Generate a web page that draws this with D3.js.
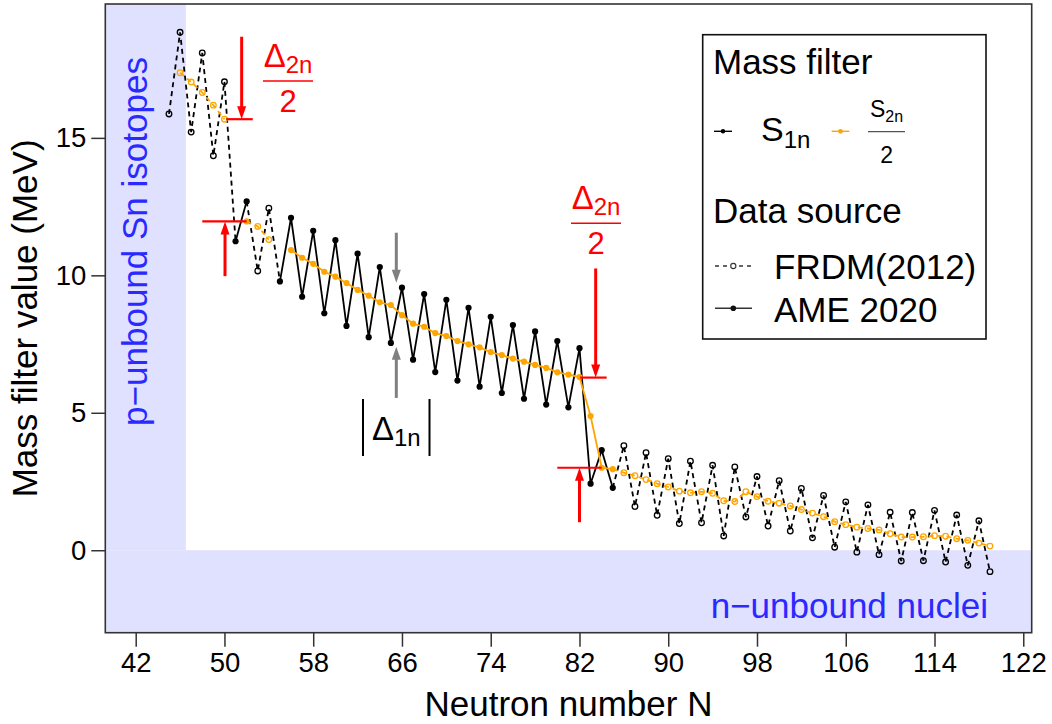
<!DOCTYPE html>
<html>
<head>
<meta charset="utf-8">
<script src="https://cdn.jsdelivr.net/npm/d3@7"></script>
<style>
  body { margin: 0; background: #fff; }
  text { font-family: "Liberation Sans", Arial, Helvetica, sans-serif; }
</style>
</head>
<body>
<div id="chart"></div>
<script>
// neutron numbers of the Sn chain
var neutronN = [45,46,47,48,49,50,51,52,53,54,55,56,57,58,59,60,61,62,63,64,
  65,66,67,68,69,70,71,72,73,74,75,76,77,78,79,80,81,82,83,84,85,86,87,88,89,
  90,91,92,93,94,95,96,97,98,99,100,101,102,103,104,105,106,107,108,109,110,
  111,112,113,114,115,116,117,118,119];

// S1n (MeV)
var s1n = [15.87,18.84,15.21,18.09,14.35,17.04,11.24,12.69,10.16,12.44,
  9.78,12.09,9.22,11.62,8.62,11.28,8.16,10.79,7.75,10.30,
  7.54,9.55,6.93,9.32,6.48,9.11,6.17,8.82,5.95,8.49,
  5.72,8.19,5.51,7.96,5.30,7.61,5.20,7.35,2.42,3.64,
  2.27,3.80,1.59,3.55,1.27,3.33,0.97,3.24,1.00,3.09,
  0.52,3.03,1.21,2.68,0.88,2.53,0.70,2.25,0.45,1.99,
  0.11,1.76,-0.07,1.65,-0.16,1.38,-0.39,1.37,-0.38,1.45,
  -0.43,1.28,-0.55,1.07,-0.78];

// S2n/2 (MeV), null where not drawn
var s2nHalf = [null,17.37,17.03,16.65,16.19,15.68,null,11.96,11.78,11.30,
  null,10.92,10.64,10.42,10.13,9.95,9.72,9.47,9.26,9.02,
  8.92,8.55,8.24,8.13,7.90,7.79,7.61,7.49,7.38,7.21,
  7.10,6.97,6.86,6.74,6.63,6.47,6.39,6.30,4.88,3.00,
  2.95,2.82,2.71,2.57,2.42,2.30,2.15,2.09,2.13,2.07,
  1.80,1.77,2.13,1.95,1.78,1.71,1.61,1.48,1.35,1.22,
  1.04,0.93,0.84,0.79,0.74,0.60,0.48,0.48,0.49,0.53,
  0.51,0.42,0.36,0.26,0.15];

// N values that come from AME 2020 (the rest are FRDM(2012))
var ameN = [51,52,55,56,57,58,59,60,61,62,63,64,65,66,67,68,69,70,71,72,73,
  74,75,76,77,78,79,80,81,82,83,84,85];

var xTicks = [42,50,58,66,74,82,90,98,106,114,122];
var yTicks = [0,5,10,15];

var W = 1052, H = 724;
var svg = d3.select('#chart').append('svg')
  .attr('width', W).attr('height', H);

var x = d3.scaleLinear().domain([39.26, 122.76]).range([105.3, 1031.7]);
var y = d3.scaleLinear().domain([-3.0, 19.87]).range([632.7, 4]);

var blue = '#2a2aff', shade = '#e0e0ff', red = '#ff0000', orange = '#ffa500';

// shaded regions
svg.append('rect')
  .attr('x', x(39.26)).attr('y', y(19.87))
  .attr('width', x(46.52) - x(39.26)).attr('height', y(0) - y(19.87))
  .attr('fill', shade);
svg.append('rect')
  .attr('x', x(39.26)).attr('y', y(0))
  .attr('width', x(122.76) - x(39.26)).attr('height', y(-3.0) - y(0))
  .attr('fill', shade);

svg.append('text')
  .attr('transform', 'translate(146.7,241.5) rotate(-90)')
  .attr('text-anchor', 'middle')
  .attr('font-size', 35).attr('fill', blue)
  .text('p\u2212unbound Sn isotopes');

svg.append('text')
  .attr('x', 988).attr('y', 618)
  .attr('text-anchor', 'end')
  .attr('font-size', 35).attr('fill', blue)
  .text('n\u2212unbound nuclei');

// axes
var xAxis = svg.append('g')
  .attr('transform', 'translate(0,' + y(-3.0) + ')')
  .call(d3.axisBottom(x).tickValues(xTicks).tickSize(14).tickSizeOuter(0).tickPadding(6));
var yAxis = svg.append('g')
  .attr('transform', 'translate(' + x(39.26) + ',0)')
  .call(d3.axisLeft(y).tickValues(yTicks).tickSize(14).tickSizeOuter(0).tickPadding(5));
[xAxis, yAxis].forEach(function(g){
  g.select('.domain').remove();
  g.selectAll('line').attr('stroke', '#333').attr('stroke-width', 1.5);
  g.selectAll('text').attr('font-size', 27.5).attr('fill', '#000')
    .attr('font-family', '"Liberation Sans", Arial, sans-serif');
});

svg.append('text')
  .attr('x', (x(39.26) + x(122.76)) / 2).attr('y', 716)
  .attr('text-anchor', 'middle').attr('font-size', 35)
  .text('Neutron number N');
svg.append('text')
  .attr('transform', 'translate(37,' + ((y(-3) + y(19.87)) / 2) + ') rotate(-90)')
  .attr('text-anchor', 'middle').attr('font-size', 35)
  .text('Mass filter value (MeV)');

// series
var line = d3.line().x(function(d){ return x(d.n); }).y(function(d){ return y(d.v); });

function drawSeries(values, color) {
  var pts = neutronN.map(function(n, i){
    return { n: n, v: values[i], ame: ameN.indexOf(n) >= 0 };
  });
  var runs = [], cur = null;
  for (var i = 0; i < pts.length - 1; i++) {
    var a = pts[i], b = pts[i + 1];
    if (a.v == null || b.v == null) { cur = null; continue; }
    var dashed = !(a.ame && b.ame);
    if (cur && cur.dashed === dashed) cur.pts.push(b);
    else { cur = { dashed: dashed, pts: [a, b] }; runs.push(cur); }
  }
  runs.forEach(function(r){
    svg.append('path').datum(r.pts)
      .attr('d', line)
      .attr('fill', 'none')
      .attr('stroke', color)
      .attr('stroke-width', 1.8)
      .attr('stroke-dasharray', r.dashed ? '5,4' : null);
  });
  svg.append('g').selectAll('circle')
    .data(pts.filter(function(d){ return d.v != null; }))
    .enter().append('circle')
    .attr('cx', function(d){ return x(d.n); })
    .attr('cy', function(d){ return y(d.v); })
    .attr('r', function(d){ return d.ame ? 3.1 : 2.8; })
    .attr('fill', function(d){ return d.ame ? color : 'none'; })
    .attr('stroke', color)
    .attr('stroke-width', function(d){ return d.ame ? 0 : 1.3; });
}

drawSeries(s1n, '#000');
drawSeries(s2nHalf, orange);

// arrows
function arrow(n0, v0, n1, v1, color) {
  var x0 = x(n0), y0 = y(v0), x1 = x(n1), y1 = y(v1);
  var dir = y1 > y0 ? 1 : -1;
  var headLen = 13, half = 4.5;
  svg.append('line')
    .attr('x1', x0).attr('y1', y0).attr('x2', x1).attr('y2', y1 - dir * headLen + dir)
    .attr('stroke', color).attr('stroke-width', 3);
  svg.append('path')
    .attr('d', 'M' + (x1 - half) + ',' + (y1 - dir * headLen) +
      'L' + (x1 + half) + ',' + (y1 - dir * headLen) + 'L' + x1 + ',' + y1 + 'Z')
    .attr('fill', color);
}
function hline(n0, n1, v, color) {
  svg.append('line')
    .attr('x1', x(n0)).attr('x2', x(n1)).attr('y1', y(v)).attr('y2', y(v))
    .attr('stroke', color).attr('stroke-width', 2.2);
}
function deltaFrac(cx, barY, color) {
  var t = svg.append('text').attr('x', cx).attr('y', barY - 14)
    .attr('text-anchor', 'middle').attr('fill', color).attr('font-size', 33);
  t.append('tspan').text('\u0394');
  t.append('tspan').attr('font-size', 24).attr('dy', 6).text('2n');
  svg.append('line')
    .attr('x1', cx - 25).attr('x2', cx + 25).attr('y1', barY).attr('y2', barY)
    .attr('stroke', color).attr('stroke-width', 1.5);
  svg.append('text').attr('x', cx).attr('y', barY + 31)
    .attr('text-anchor', 'middle').attr('fill', color).attr('font-size', 31)
    .text('2');
}

// left (N = 50) gap
hline(50.2, 52.55, 15.68, red);
arrow(51.55, 18.68, 51.55, 15.68, red);
hline(48.0, 52.0, 11.96, red);
arrow(50.05, 9.97, 50.05, 11.96, red);
deltaFrac(288, 81, red);

// right (N = 82) gap
hline(82.05, 84.45, 6.28, red);
arrow(83.46, 10.25, 83.46, 6.28, red);
hline(80.0, 84.0, 3.0, red);
arrow(82.0, 1.02, 82.0, 3.0, red);
deltaFrac(596, 223.3, red);

// odd-even staggering
arrow(65.49, 11.55, 65.49, 9.73, '#808080');
arrow(65.49, 5.54, 65.49, 7.40, '#808080');
var cx1 = x(65.49);
[363, 429.5].forEach(function(bx){
  svg.append('line').attr('x1', bx).attr('x2', bx).attr('y1', 399).attr('y2', 456)
    .attr('stroke', '#000').attr('stroke-width', 2);
});
var d1 = svg.append('text').attr('x', cx1).attr('y', 440)
  .attr('text-anchor', 'middle').attr('font-size', 33);
d1.append('tspan').text('\u0394');
d1.append('tspan').attr('font-size', 24).attr('dy', 6).text('1n');

// frame
svg.append('rect')
  .attr('x', x(39.26)).attr('y', y(19.87))
  .attr('width', x(122.76) - x(39.26)).attr('height', y(-3.0) - y(19.87))
  .attr('fill', 'none').attr('stroke', '#333').attr('stroke-width', 1.6);

// legend
var lg = svg.append('g');
lg.append('rect').attr('x', 702.7).attr('y', 34.7).attr('width', 283.3).attr('height', 304.3)
  .attr('fill', '#fff').attr('stroke', '#111').attr('stroke-width', 1.6);
lg.append('text').attr('x', 713).attr('y', 74).attr('font-size', 35).text('Mass filter');

lg.append('line').attr('x1', 714).attr('x2', 732).attr('y1', 131.3).attr('y2', 131.3)
  .attr('stroke', '#000').attr('stroke-width', 1.4);
lg.append('circle').attr('cx', 723).attr('cy', 131.3).attr('r', 2.2).attr('fill', '#000');
var s1 = lg.append('text').attr('x', 761).attr('y', 141).attr('font-size', 34);
s1.append('tspan').text('S');
s1.append('tspan').attr('font-size', 24).attr('dy', 7).text('1n');

lg.append('line').attr('x1', 831.7).attr('x2', 849.3).attr('y1', 131.3).attr('y2', 131.3)
  .attr('stroke', orange).attr('stroke-width', 1.4);
lg.append('circle').attr('cx', 840.5).attr('cy', 131.3).attr('r', 2.4).attr('fill', orange);
var s2 = lg.append('text').attr('x', 886.5).attr('y', 116.7)
  .attr('text-anchor', 'middle').attr('font-size', 23);
s2.append('tspan').text('S');
s2.append('tspan').attr('font-size', 16).attr('dy', 5).text('2n');
lg.append('line').attr('x1', 868).attr('x2', 905).attr('y1', 131.7).attr('y2', 131.7)
  .attr('stroke', '#555').attr('stroke-width', 1.2);
lg.append('text').attr('x', 886.7).attr('y', 162.7).attr('text-anchor', 'middle')
  .attr('font-size', 23).text('2');

lg.append('text').attr('x', 713).attr('y', 223.3).attr('font-size', 35).text('Data source');

lg.append('line').attr('x1', 715).attr('x2', 752).attr('y1', 266).attr('y2', 266)
  .attr('stroke', '#333').attr('stroke-width', 1.4).attr('stroke-dasharray', '4,4');
lg.append('circle').attr('cx', 733.3).attr('cy', 266).attr('r', 2.6)
  .attr('fill', '#fff').attr('stroke', '#333').attr('stroke-width', 1.1);
lg.append('text').attr('x', 774).attr('y', 279.3).attr('font-size', 35).text('FRDM(2012)');

lg.append('line').attr('x1', 715).attr('x2', 752).attr('y1', 308.3).attr('y2', 308.3)
  .attr('stroke', '#333').attr('stroke-width', 1.6);
lg.append('circle').attr('cx', 733.3).attr('cy', 308.3).attr('r', 2.8).attr('fill', '#111');
lg.append('text').attr('x', 774).attr('y', 321.7).attr('font-size', 35).text('AME 2020');
</script>
</body>
</html>
